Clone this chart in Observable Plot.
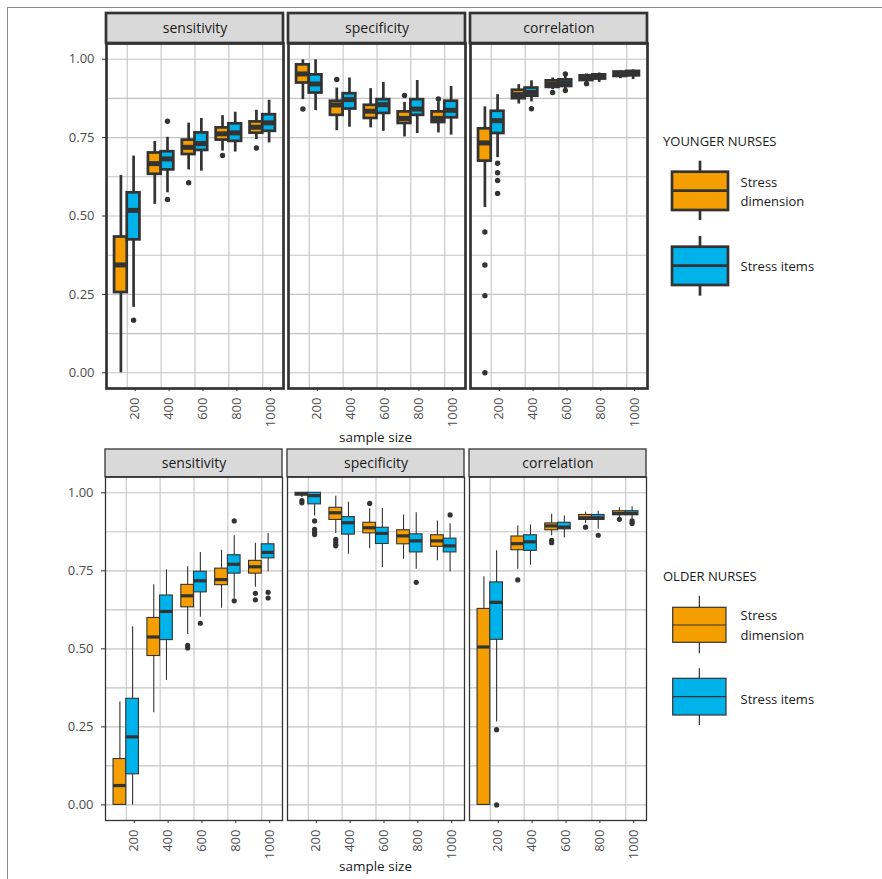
<!DOCTYPE html>
<html><head><meta charset="utf-8">
<script src="https://cdn.jsdelivr.net/npm/d3@7"></script>
<script src="https://cdn.jsdelivr.net/npm/@observablehq/plot@0.6"></script>
<style>
html,body{margin:0;padding:0;background:#fff;}
#root{position:relative;width:882px;height:879px;overflow:hidden;font-family:"Open Sans",sans-serif;}
.abs{position:absolute;}
.xlab{position:absolute;font-size:13.5px;color:#1a1a1a;transform:translate(-50%,-50%);white-space:nowrap;}
#border{position:absolute;left:7px;top:7px;right:-10px;bottom:-10px;border-top:1.5px solid #8a8a8a;border-left:1.5px solid #8a8a8a;}
</style></head><body><div id="root"><div id="border"></div></div>
<script>
const metrics = ["sensitivity", "specificity", "correlation"];
const sizes = [200, 400, 600, 800, 1000];
const groups = ["Stress dimension", "Stress items"];
const groupColors = ["#f59e00", "#00b2ea"];
const yTicks = [0, 0.25, 0.5, 0.75, 1];
const yMinor = [0.125, 0.375, 0.625, 0.875];
const legendTitles = ["YOUNGER NURSES", "OLDER NURSES"];

// each entry: [lower whisker, Q1, median, Q3, upper whisker], one per sample size
const youngerSensitivityDimension = [[0.000,0.256,0.344,0.433,0.629],[0.537,0.633,0.667,0.701,0.738],[0.647,0.696,0.719,0.742,0.796],[0.707,0.742,0.762,0.781,0.820],[0.744,0.764,0.783,0.800,0.837]];
const youngerSensitivityItems     = [[0.209,0.424,0.518,0.574,0.691],[0.574,0.647,0.682,0.705,0.751],[0.643,0.709,0.731,0.765,0.811],[0.704,0.738,0.765,0.794,0.831],[0.733,0.770,0.797,0.823,0.869]];
const youngerSpecificityDimension = [[0.871,0.924,0.953,0.982,0.998],[0.772,0.821,0.854,0.866,0.908],[0.781,0.811,0.834,0.853,0.906],[0.752,0.795,0.811,0.832,0.862],[0.765,0.798,0.811,0.832,0.864]];
const youngerSpecificityItems     = [[0.836,0.892,0.921,0.950,0.998],[0.783,0.841,0.871,0.890,0.940],[0.770,0.827,0.855,0.871,0.926],[0.763,0.821,0.841,0.871,0.932],[0.758,0.813,0.837,0.866,0.913]];
const youngerCorrelationDimension = [[0.527,0.675,0.733,0.778,0.848],[0.857,0.874,0.887,0.901,0.919],[0.903,0.910,0.921,0.931,0.940],[0.926,0.932,0.940,0.947,0.953],[0.938,0.945,0.951,0.959,0.963]];
const youngerCorrelationItems     = [[0.686,0.763,0.804,0.834,0.887],[0.864,0.882,0.894,0.908,0.931],[0.903,0.913,0.924,0.934,0.945],[0.926,0.937,0.943,0.950,0.956],[0.935,0.947,0.954,0.961,0.966]];

const olderSensitivityDimension = [[0.000,0.000,0.062,0.147,0.330],[0.295,0.477,0.538,0.599,0.705],[0.546,0.633,0.670,0.705,0.763],[0.630,0.704,0.722,0.757,0.816],[0.697,0.741,0.763,0.782,0.838]];
const olderSensitivityItems     = [[0.000,0.098,0.218,0.340,0.571],[0.399,0.528,0.620,0.671,0.753],[0.601,0.681,0.718,0.747,0.809],[0.662,0.741,0.771,0.800,0.862],[0.747,0.790,0.809,0.835,0.870]];
const olderSpecificityDimension = [[0.985,0.991,0.997,1.000,1.000],[0.870,0.913,0.936,0.952,0.989],[0.821,0.870,0.888,0.904,0.949],[0.787,0.835,0.862,0.880,0.929],[0.782,0.827,0.846,0.864,0.910]];
const olderSpecificityItems     = [[0.926,0.963,0.991,1.000,1.000],[0.803,0.866,0.904,0.922,0.970],[0.761,0.836,0.870,0.888,0.950],[0.755,0.809,0.846,0.867,0.936],[0.747,0.809,0.830,0.853,0.901]];
const olderCorrelationDimension = [[0.000,0.000,0.506,0.628,0.731],[0.755,0.816,0.837,0.860,0.894],[0.862,0.880,0.894,0.902,0.931],[0.902,0.913,0.920,0.929,0.938],[0.920,0.928,0.934,0.941,0.952]];
const olderCorrelationItems     = [[0.266,0.529,0.649,0.713,0.814],[0.768,0.814,0.843,0.864,0.897],[0.856,0.883,0.890,0.904,0.926],[0.883,0.913,0.920,0.929,0.941],[0.915,0.928,0.934,0.941,0.955]];

// outliers: [sample size, group index (0 = dimension, 1 = items), value]
const youngerSensitivityOutliers = [[200,1,0.168],[400,1,0.802],[400,1,0.553],[600,0,0.606],[800,0,0.693],[1000,0,0.717]];
const youngerSpecificityOutliers = [[200,0,0.841],[400,0,0.935],[800,0,0.884],[1000,0,0.873]];
const youngerCorrelationOutliers = [[200,0,0.449],[200,0,0.344],[200,0,0.246],[200,0,0.000],[200,1,0.668],[200,1,0.638],[200,1,0.613],[200,1,0.572],[400,1,0.842],[600,0,0.894],[600,1,0.953],[600,1,0.900],[800,0,0.922]];
const olderSensitivityOutliers = [[600,0,0.511],[600,0,0.503],[600,1,0.582],[800,1,0.910],[800,1,0.654],[1000,0,0.678],[1000,0,0.657],[1000,1,0.681],[1000,1,0.663]];
const olderSpecificityOutliers = [[200,0,0.975],[200,0,0.968],[200,1,0.910],[200,1,0.883],[200,1,0.874],[200,1,0.866],[400,0,0.851],[400,0,0.843],[400,0,0.835],[400,0,0.830],[600,0,0.966],[800,1,0.713],[1000,1,0.929]];
const olderCorrelationOutliers = [[200,1,0.241],[200,1,0.000],[400,0,0.721],[600,0,0.848],[600,0,0.840],[800,0,0.890],[800,1,0.864],[1000,0,0.915],[1000,1,0.910],[1000,1,0.902]];

const HALF = 75; // dodge half-width in sample-size units
function buildBoxes(series) {
  const rows = [];
  series.forEach(([metric, dim, items]) => {
    [dim, items].forEach((arr, g) => {
      arr.forEach((s, i) => {
        const size = sizes[i];
        rows.push({metric, size, group: groups[g],
          x1: g === 0 ? size - HALF : size, x2: g === 0 ? size : size + HALF,
          xc: g === 0 ? size - HALF / 2 : size + HALF / 2,
          lo: s[0], q1: s[1], med: s[2], q3: s[3], hi: s[4]});
      });
    });
  });
  return rows;
}
function buildOutliers(series) {
  const rows = [];
  series.forEach(([metric, arr]) => arr.forEach(([size, g, v]) =>
    rows.push({metric, value: v, xc: g === 0 ? size - HALF / 2 : size + HALF / 2})));
  return rows;
}

const youngerBoxes = buildBoxes([
  ["sensitivity", youngerSensitivityDimension, youngerSensitivityItems],
  ["specificity", youngerSpecificityDimension, youngerSpecificityItems],
  ["correlation", youngerCorrelationDimension, youngerCorrelationItems]]);
const youngerOut = buildOutliers([
  ["sensitivity", youngerSensitivityOutliers], ["specificity", youngerSpecificityOutliers], ["correlation", youngerCorrelationOutliers]]);
const olderBoxes = buildBoxes([
  ["sensitivity", olderSensitivityDimension, olderSensitivityItems],
  ["specificity", olderSpecificityDimension, olderSpecificityItems],
  ["correlation", olderCorrelationDimension, olderCorrelationItems]]);
const olderOut = buildOutliers([
  ["sensitivity", olderSensitivityOutliers], ["specificity", olderSpecificityOutliers], ["correlation", olderCorrelationOutliers]]);

const XD = [77.5, 1122.5], YD = [-0.05, 1.05];
function rowPlot(c) {
  const unit = (c.height - c.marginTop - c.marginBottom) / (YD[1] - YD[0]);
  const stripTop = YD[1] + c.stripPx / unit;
  const grid = {stroke: "#c4c4c4", strokeOpacity: 1, strokeWidth: 1.1};
  return Plot.plot({
    width: 650, height: c.height, marginTop: c.marginTop, marginBottom: c.marginBottom,
    marginLeft: c.marginLeft, marginRight: 3,
    style: {fontFamily: "'Open Sans', sans-serif", fontSize: "13px", background: "transparent", overflow: "visible"},
    fx: {domain: metrics, padding: 0.03, axis: null, label: null},
    x: {domain: XD, label: null},
    y: {domain: YD, label: null},
    color: {domain: groups, range: groupColors},
    marks: [
      Plot.gridY(yMinor, grid),
      Plot.gridY(yTicks, grid),
      Plot.gridX(sizes, grid),
      Plot.ruleX(c.boxes, {fx: "metric", x: "xc", y1: "lo", y2: "hi", stroke: "#333", strokeWidth: c.whisk}),
      Plot.rect(c.boxes, {fx: "metric", x1: "x1", x2: "x2", y1: "q1", y2: "q3", fill: "group", stroke: "#333", strokeWidth: c.lw}),
      Plot.ruleY(c.boxes, {fx: "metric", x1: "x1", x2: "x2", y: "med", stroke: "#333", strokeWidth: c.medW}),
      Plot.dot(c.out, {fx: "metric", x: "xc", y: "value", r: c.dotR, fill: "#333", stroke: "none"}),
      Plot.frame({stroke: "#333", strokeWidth: c.frameW}),
      Plot.rect(metrics, {fx: d => d, x1: XD[0], x2: XD[1], y1: YD[1], y2: stripTop, fill: "#d9d9d9", stroke: "#333", strokeWidth: c.frameW}),
      Plot.text(metrics, {fx: d => d, x: (XD[0] + XD[1]) / 2, y: (YD[1] + stripTop) / 2, text: d => d, fontSize: 14, fill: "#1a1a1a"}),
      Plot.axisY(yTicks, {tickFormat: d => d.toFixed(2), tickSize: 4, tickPadding: 8, stroke: "#333", fill: "#4d4d4d", fontSize: 13, label: null}),
      Plot.axisX(sizes, {tickFormat: d => String(d), tickSize: 3, tickRotate: -90, tickPadding: 6, dx: 8, stroke: "#333", fill: "#4d4d4d", fontSize: 13, label: null})
    ]
  });
}

const root = document.getElementById("root");
const top1 = rowPlot({boxes: youngerBoxes, out: youngerOut, height: 440, marginTop: 43, marginBottom: 52, marginLeft: 105,
  stripPx: 30, lw: 2.7, medW: 5, whisk: 2.7, dotR: 2.7, frameW: 2.7});
top1.classList.add("abs"); top1.style.left = "0px"; top1.style.top = "0px";
root.appendChild(top1);
const bot1 = rowPlot({boxes: olderBoxes, out: olderOut, height: 439, marginTop: 36.7, marginBottom: 59, marginLeft: 104,
  stripPx: 27.7, lw: 1.1, medW: 3.2, whisk: 1.1, dotR: 2.6, frameW: 1.3});
bot1.classList.add("abs"); bot1.style.left = "0px"; bot1.style.top = "440px";
root.appendChild(bot1);

[[375.5, 437], [375.5, 866]].forEach(([x, y]) => {
  const d = document.createElement("div");
  d.className = "xlab"; d.textContent = "sample size";
  d.style.left = x + "px"; d.style.top = y + "px";
  root.appendChild(d);
});

// legends
const lg = d3.select(root).append("svg").attr("class", "abs").style("left", "0px").style("top", "0px")
  .attr("width", 882).attr("height", 879).style("pointer-events", "none")
  .style("font-family", "'Open Sans', sans-serif");
function key(x1, x2, wTop, bTop, med, bBot, wBot, color, sw, msw) {
  const cx = (x1 + x2) / 2;
  lg.append("line").attr("x1", cx).attr("x2", cx).attr("y1", wTop).attr("y2", bTop).attr("stroke", "#333").attr("stroke-width", sw);
  lg.append("line").attr("x1", cx).attr("x2", cx).attr("y1", bBot).attr("y2", wBot).attr("stroke", "#333").attr("stroke-width", sw);
  lg.append("rect").attr("x", x1).attr("y", bTop).attr("width", x2 - x1).attr("height", bBot - bTop)
    .attr("fill", color).attr("stroke", "#333").attr("stroke-width", sw);
  lg.append("line").attr("x1", x1).attr("x2", x2).attr("y1", med).attr("y2", med).attr("stroke", "#333").attr("stroke-width", msw);
}
function label(x, y, t, size) {
  lg.append("text").attr("x", x).attr("y", y).attr("dominant-baseline", "central")
    .attr("font-size", size).attr("fill", "#1a1a1a").text(t);
}
label(663, 140.7, legendTitles[0], 13);
key(672, 728, 160.7, 171.7, 190.7, 210, 220, groupColors[0], 2.7, 2.7);
key(672, 728, 236, 246.7, 265.7, 285, 295.7, groupColors[1], 2.7, 2.7);
label(740.5, 181.7, "Stress", 13); label(740.5, 200.7, "dimension", 13); label(740.5, 265.7, groups[1], 13);
label(663, 575.7, legendTitles[1], 13);
key(672.7, 726, 595.7, 607.3, 625, 642.3, 653.3, groupColors[0], 1.2, 1.2);
key(672.7, 726, 668.3, 678.3, 696.7, 715, 725, groupColors[1], 1.2, 1.2);
label(740.5, 615, "Stress", 13); label(740.5, 635, "dimension", 13); label(740.5, 699.3, groups[1], 13);
</script></body></html>
